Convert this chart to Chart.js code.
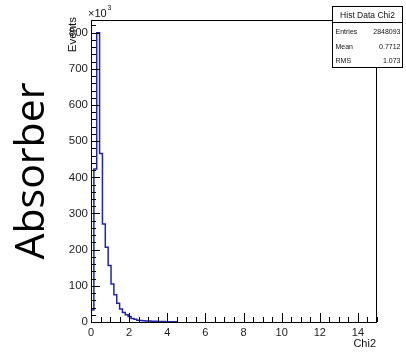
<!DOCTYPE html>
<html>
<head>
<meta charset="utf-8">
<script src="https://cdn.jsdelivr.net/npm/chart.js@4.4.0/dist/chart.umd.min.js"></script>
<style>
  html, body { margin: 0; padding: 0; background: #fff; }
  #wrap { width: 406px; height: 353px; }
</style>
</head>
<body>
<div id="wrap"><canvas id="chi2Chart" width="406" height="353"></canvas></div>
<script>
// Chi2 histogram: bins of 0.15 from 0, counts in units of 10^3
const binWidth = 0.15;
const binCounts = [33, 423, 800, 466, 271, 207, 156, 105, 75, 52,
                   36, 26, 20, 15, 10, 7.5, 5, 4, 3.5, 3,
                   2.5, 2, 1.8, 1.5, 1.3, 1.1, 1, 0.9, 0.8, 0.7];

const xTicks = [0, 2, 4, 6, 8, 10, 12, 14];
const yTicks = [0, 100, 200, 300, 400, 500, 600, 700, 800];

const statsTitle = 'Hist Data Chi2';
const statsLabels = ['Entries', 'Mean', 'RMS'];
const statsValues = ['2848093', '0.7712', '1.073'];

const FONT = '"Liberation Sans", Arial, sans-serif';
const lineBlue = '#2424a8';

// step outline: one point per bin low edge, closed to zero at both ends
const points = [{ x: 0, y: 0 }];
binCounts.forEach((c, i) => points.push({ x: i * binWidth, y: c }));
points.push({ x: binCounts.length * binWidth, y: 0 });

const rootFrame = {
  id: 'rootFrame',
  afterDraw(chart) {
    const { ctx, chartArea: a } = chart;
    const xs = chart.scales.x, ys = chart.scales.y;
    ctx.save();

    // frame
    ctx.strokeStyle = '#000';
    ctx.lineWidth = 1;
    ctx.strokeRect(a.left + 0.5, a.top + 0.5, a.right - a.left - 1, a.bottom - a.top);

    // inward ticks
    ctx.beginPath();
    for (let v = 0; v <= 15; v += 0.5) {
      const px = Math.round(xs.getPixelForValue(v)) + 0.5;
      const len = (v % 2 === 0) ? 9 : 5;
      ctx.moveTo(px, a.bottom);
      ctx.lineTo(px, a.bottom - len);
    }
    for (let v = 0; v <= 820; v += 20) {
      const py = Math.round(ys.getPixelForValue(v)) + 0.5;
      const len = (v % 100 === 0) ? 9 : 5;
      ctx.moveTo(a.left, py);
      ctx.lineTo(a.left + len, py);
    }
    ctx.stroke();

    ctx.fillStyle = '#111';

    // exponent
    ctx.textAlign = 'left';
    ctx.textBaseline = 'alphabetic';
    ctx.font = '11px ' + FONT;
    ctx.fillText('\u00d710', 88, 17);
    ctx.font = '7px ' + FONT;
    ctx.fillText('3', 107.5, 10);

    // axis titles
    ctx.font = '11px ' + FONT;
    ctx.textAlign = 'right';
    ctx.fillText('Chi2', 376, 347);

    ctx.save();
    ctx.translate(76, 17);
    ctx.rotate(-Math.PI / 2);
    ctx.font = '11.5px ' + FONT;
    ctx.textAlign = 'right';
    ctx.fillText('Events', 0, 0);
    ctx.restore();

    // big label
    ctx.save();
    ctx.translate(44, 171);
    ctx.rotate(-Math.PI / 2);
    ctx.fillStyle = '#000';
    ctx.font = '41px "Open Sans", sans-serif';
    ctx.textAlign = 'center';
    ctx.fillText('Absorber', 0, 0);
    ctx.restore();

    // stats box
    const bx = 332.5, by = 6.5, bw = 70, bh = 61;
    ctx.fillStyle = '#fff';
    ctx.fillRect(bx, by, bw, bh);
    ctx.strokeRect(bx, by, bw, bh);
    ctx.beginPath();
    ctx.moveTo(bx, 22.5);
    ctx.lineTo(bx + bw, 22.5);
    ctx.stroke();

    ctx.fillStyle = '#111';
    ctx.font = '8.5px ' + FONT;
    ctx.textAlign = 'center';
    ctx.fillText(statsTitle, bx + bw / 2, 18);
    ctx.font = '7px ' + FONT;
    statsLabels.forEach((lab, i) => {
      const yy = 34 + i * 14.5;
      ctx.textAlign = 'left';
      ctx.fillText(lab, bx + 3, yy);
      ctx.textAlign = 'right';
      ctx.fillText(statsValues[i], bx + bw - 2, yy);
    });

    ctx.restore();
  }
};

new Chart(document.getElementById('chi2Chart').getContext('2d'), {
  type: 'line',
  data: {
    datasets: [{
      data: points,
      borderColor: lineBlue,
      borderWidth: 1.5,
      stepped: true,
      fill: false,
      pointRadius: 0
    }]
  },
  options: {
    responsive: false,
    animation: false,
    events: [],
    layout: { padding: { top: 20, right: 29, left: 0, bottom: 0 } },
    plugins: { legend: { display: false }, tooltip: { enabled: false } },
    scales: {
      x: {
        type: 'linear',
        min: 0,
        max: 15,
        afterBuildTicks: s => { s.ticks = xTicks.map(v => ({ value: v })); },
        afterFit: s => { s.height = 31; },
        grid: { display: false, drawTicks: false },
        border: { display: false },
        ticks: { color: '#222', padding: 4, maxRotation: 0, font: { family: FONT, size: 11 } }
      },
      y: {
        type: 'linear',
        min: 0,
        max: 835,
        afterBuildTicks: s => { s.ticks = yTicks.map(v => ({ value: v })); },
        afterFit: s => { s.width = 91; },
        grid: { display: false, drawTicks: false },
        border: { display: false },
        ticks: { color: '#222', padding: 3, font: { family: FONT, size: 11.5 } }
      }
    }
  },
  plugins: [rootFrame]
});
</script>
</body>
</html>
